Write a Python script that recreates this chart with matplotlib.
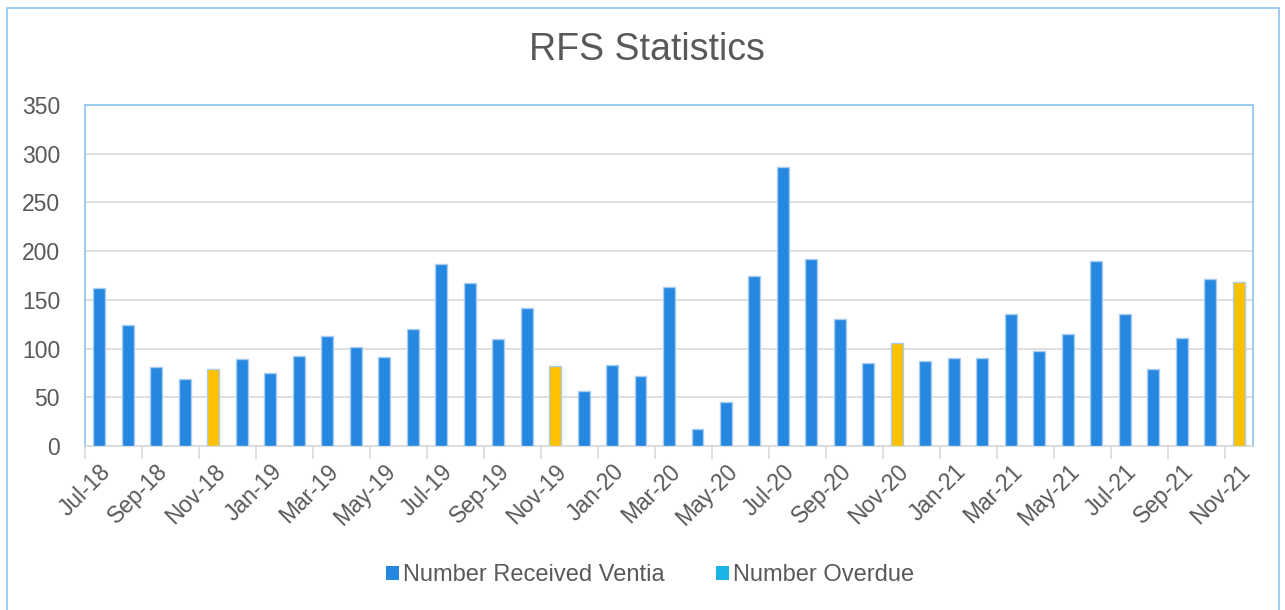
import numpy as np
import matplotlib
matplotlib.use("Agg")
import matplotlib.pyplot as plt
from matplotlib.patches import Patch, Rectangle

plt.rcParams['font.family'] = ['Liberation Sans', 'DejaVu Sans']

months = ["Jul-18", "Aug-18", "Sep-18", "Oct-18", "Nov-18", "Dec-18",
          "Jan-19", "Feb-19", "Mar-19", "Apr-19", "May-19", "Jun-19",
          "Jul-19", "Aug-19", "Sep-19", "Oct-19", "Nov-19", "Dec-19",
          "Jan-20", "Feb-20", "Mar-20", "Apr-20", "May-20", "Jun-20",
          "Jul-20", "Aug-20", "Sep-20", "Oct-20", "Nov-20", "Dec-20",
          "Jan-21", "Feb-21", "Mar-21", "Apr-21", "May-21", "Jun-21",
          "Jul-21", "Aug-21", "Sep-21", "Oct-21", "Nov-21"]
received = [162, 124, 81, 69, 79, 89, 75, 92, 113, 102, 91, 120,
            187, 167, 110, 142, 82, 56, 83, 72, 163, 17, 45, 175,
            286, 192, 130, 85, 106, 87, 90, 90, 135, 97, 115, 190,
            135, 79, 111, 171, 168]
highlight_months = ["Nov-18", "Nov-19", "Nov-20", "Nov-21"]
series_names = ["Number Received Ventia", "Number Overdue"]
title = "RFS Statistics"

BLUE = "#2587E0"
YELLOW = "#FFC000"
CYAN = "#1BB2E8"
EDGE = "#A9CDEF"
TXT = "#595959"
GRID = "#D9D9D9"
BORDER = "#8EC3F0"

fig = plt.figure(figsize=(12.85, 6.10), dpi=100)
ax = fig.add_axes([85/1285, 1-446/610, (1253-85)/1285, (446-105)/610])

x = np.arange(len(months))
colors = [YELLOW if m in highlight_months else BLUE for m in months]
ax.bar(x, received, width=0.42, color=colors, edgecolor=EDGE, linewidth=1.0, zorder=3)

ax.set_xlim(-0.5, len(months) - 0.5)
ax.set_ylim(0, 350)
ax.set_yticks(np.arange(0, 351, 50))
ax.yaxis.grid(True, color=GRID, linewidth=1.2, zorder=0)
ax.tick_params(axis='y', length=0, labelsize=16.5, labelcolor=TXT, pad=18)

ax.set_xticks(x[::2])
ax.set_xticklabels(months[::2], rotation=45, ha='right', rotation_mode='anchor',
                   fontsize=16.5, color=TXT)
ax.tick_params(axis='x', which='major', length=0, pad=10)
ax.set_xticks(np.arange(-0.5, len(months), 2), minor=True)
ax.tick_params(axis='x', which='minor', length=9, color=GRID, width=1.2)

for s in ['left', 'right', 'top']:
    ax.spines[s].set_color(BORDER)
    ax.spines[s].set_linewidth(1.2)
ax.spines['bottom'].set_color(GRID)
ax.spines['bottom'].set_linewidth(1.2)

fig.text(647/1285, 1-50/610, title, ha='center', va='center', fontsize=27, color=TXT)

handles = [Patch(facecolor=BLUE, edgecolor='none'), Patch(facecolor=CYAN, edgecolor='none')]
fig.legend(handles, series_names, loc='center', bbox_to_anchor=(650/1285, 1-575/610),
           ncol=2, frameon=False, fontsize=17, labelcolor=TXT,
           handlelength=0.55, handleheight=0.55, handletextpad=0.15, columnspacing=2.2)

fig.patches.append(Rectangle((7/1285, -0.05), (1279-7)/1285, 1.05-8/610, transform=fig.transFigure,
                             fill=False, edgecolor=BORDER, linewidth=1.2))

fig.savefig("out.png", dpi=100, facecolor='white')
